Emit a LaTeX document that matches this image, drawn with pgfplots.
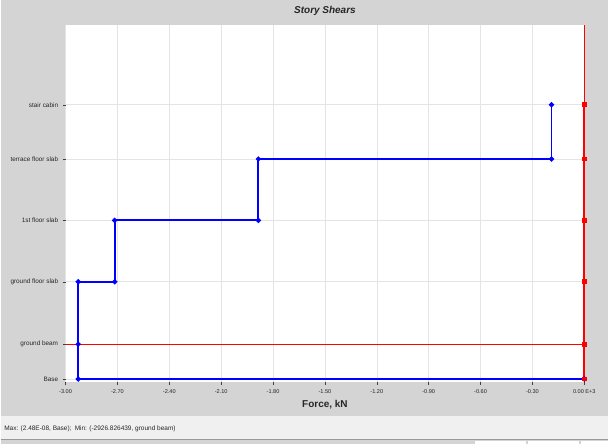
\documentclass[border=0pt]{standalone}
\usepackage{pgfplots}
\pgfplotsset{compat=1.18}
\usepackage{fontspec}
\setmainfont{Liberation Sans}
\definecolor{panelgray}{HTML}{D4D4D4}
\definecolor{barlight}{HTML}{F0F0F0}
\definecolor{gridgray}{HTML}{E4E4E4}
\definecolor{tickgray}{HTML}{404040}
\begin{document}
\begin{tikzpicture}[x=1pt,y=1pt]
% window background and status bar
\fill[panelgray] (0,0) rectangle (609,445);
\fill[barlight] (0,5) rectangle (609,28);
\draw[black!40, line width=1.5pt] (0,4.2) -- (609,4.2);
\fill[white] (475,0) rectangle (527,3.2);
\fill[white] (529,0) rectangle (580,3.2);
\fill[white] (582,0) rectangle (609,3.2);
\node[anchor=west, font=\fontsize{6.5}{7}\selectfont, text=black!85] at (0,15.5)
  {Max: (2.48E-08, Base);\enspace Min: (-2926.826439, ground beam)};
% title and axis label
\node[font=\fontsize{10}{12}\selectfont\bfseries\itshape, text=black!85] at (325,434) {Story Shears};
\node[font=\fontsize{10}{12}\selectfont\bfseries, text=black!85] at (325,39) {Force, kN};
\begin{axis}[
  at={(65pt,62pt)}, anchor=south west,
  width=520pt, height=358pt, scale only axis,
  xmin=-3, xmax=0, ymin=-0.15, ymax=17.3,
  clip=false,
  axis background/.style={fill=white},
  axis line style={draw=none},
  xtick={-3,-2.7,-2.4,-2.1,-1.8,-1.5,-1.2,-0.9,-0.6,-0.3,0},
  xticklabels={-3.00,-2.70,-2.40,-2.10,-1.80,-1.50,-1.20,-0.90,-0.60,-0.30,0.00 E+3},
  ytick={0,1.7,4.75,7.75,10.75,13.4},
  yticklabels={Base,ground beam,ground floor slab,1st floor slab,terrace floor slab,stair cabin},
  xtick pos=bottom, ytick pos=left,
  tick align=outside,
  major tick length=3pt,
  tick style={tickgray, line width=0.5pt},
  grid=major,
  major grid style={gridgray, line width=0.6pt},
  xticklabel style={font=\fontsize{5.6}{6}\selectfont, text=black!85, yshift=-1pt},
  yticklabel style={font=\fontsize{6.4}{7}\selectfont, text=black!85, xshift=-1pt},
]
% zero reference line and ground-beam level
\addplot[red, line width=0.6pt, forget plot] coordinates {(0,-0.15) (0,17.3)};
\addplot[red, line width=0.6pt, forget plot] coordinates {(-3,1.7) (0,1.7)};
% story shear, X direction
\addplot[blue, line width=1.9pt, mark=*, mark size=1.5pt, mark options={fill=blue}] coordinates {
  (0,0) (-2.927,0) (-2.927,1.7) (-2.927,4.75) (-2.716,4.75) (-2.716,7.75)
  (-1.885,7.75) (-1.885,10.75) (-0.190,10.75) (-0.190,13.4)
};
% story shear, Y direction
\addplot[red, line width=1.9pt, mark=square*, mark size=1.4pt, mark options={fill=red}] coordinates {
  (0,0) (0,1.7) (0,4.75) (0,7.75) (0,10.75) (0,13.4)
};
\end{axis}
\end{tikzpicture}
\end{document}
